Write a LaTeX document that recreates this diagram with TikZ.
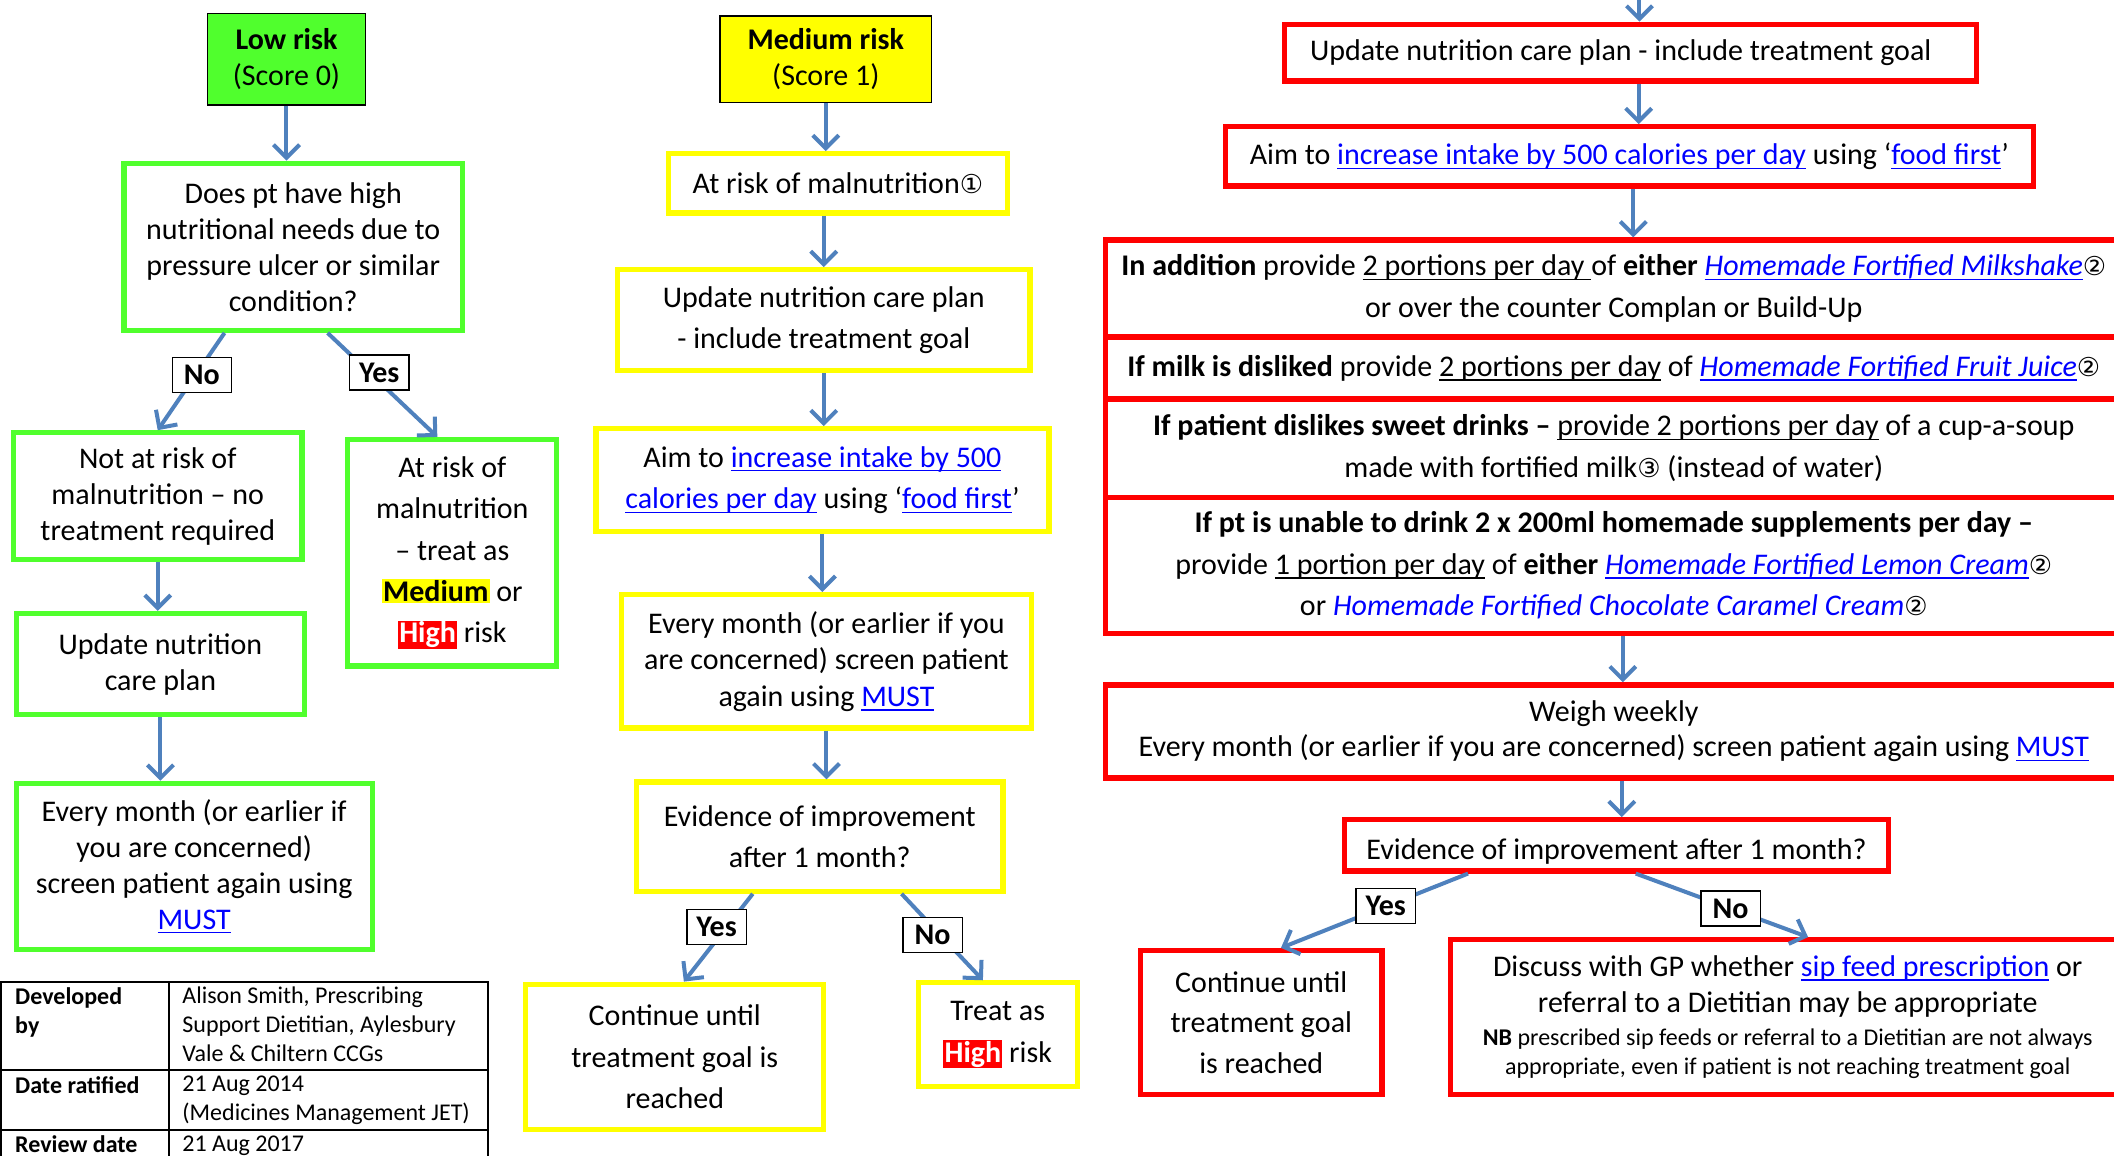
\documentclass[tikz,border=0pt]{standalone}
\usepackage{fontspec}
\setmainfont{Carlito}
\newfontfamily\circfont{DejaVu Sans}
\usetikzlibrary{arrows.meta,calc}

\definecolor{boxgreen}{RGB}{80,255,45}
\definecolor{boxyellow}{RGB}{255,255,0}
\definecolor{boxred}{RGB}{255,0,0}
\definecolor{arrowblue}{RGB}{79,129,189}
\definecolor{linkblue}{RGB}{0,0,255}

\newcommand{\pxu}{0.674pt}
\newsavebox{\ulbox}
\newcommand{\uln}[1]{\sbox{\ulbox}{#1}\rlap{\rule[-2.2pt]{\wd\ulbox}{0.7pt}}\usebox{\ulbox}}
\newcommand{\lnk}[1]{\textcolor{linkblue}{\uln{#1}}}
\newcommand{\ilnk}[1]{{\itshape\lnk{#1}}}
\newcommand{\cnum}[1]{{\circfont\fontsize{13}{13}\selectfont #1}}
\newcommand{\hlmed}{{\setlength{\fboxsep}{0.6pt}\colorbox{boxyellow}{\textbf{Medium}}}}
\newcommand{\hlhigh}{{\setlength{\fboxsep}{0.6pt}\colorbox{boxred}{\textcolor{white}{\textbf{High}}}}}

\tikzset{
  sized/.style 2 args={minimum width=#1*\pxu,minimum height=#2*\pxu,
    inner sep=0pt,align=center,fill=white},
  gbox/.style={draw=boxgreen,line width=2.6pt,font=\fontsize{15}{18}\selectfont},
  ybox/.style={draw=boxyellow,line width=2.6pt,font=\fontsize{15}{20.8}\selectfont},
  rbox/.style={draw=boxred,line width=2.6pt,font=\fontsize{15}{20.8}\selectfont},
  headbox/.style={draw=black,line width=0.7pt,font=\fontsize{15}{18}\selectfont},
  lbl/.style={draw=black,fill=white,line width=0.6pt,inner sep=0pt,
    minimum width=44*\pxu,minimum height=26*\pxu,
    font=\fontsize{15}{16}\selectfont\bfseries},
  arr/.style={draw=arrowblue,line width=2pt,
    -{Straight Barb[length=6.5pt,width=13pt,line width=2pt]}},
  tline/.style={draw=black,line width=1pt},
  cell/.style={anchor=north west,align=left,inner sep=0pt,
    font=\fontsize{12}{14.5}\selectfont}
}

\begin{document}
\begin{tikzpicture}[x=0.674pt,y=-0.674pt,line join=miter]
  \fill[white] (0,0) rectangle (1568,857);
  \clip (0,0) rectangle (1568,857);

  % Low risk column (green).
  \node[headbox,sized={117}{68},fill=boxgreen] (low) at (212.5,44)
    {\textbf{Low risk}\\(Score 0)};
  \node[gbox,sized={251}{124}] (q1) at (217.5,183)
    {Does pt have high\\nutritional needs due to\\pressure ulcer or similar\\condition?};
  \node[gbox,sized={214}{94}] (notrisk) at (117,368)
    {Not at risk of\\malnutrition -- no\\treatment required};
  \node[gbox,sized={155}{168},font=\fontsize{15}{20.7}\selectfont] (atrisk) at (335.5,410)
    {At risk of\\malnutrition\\-- treat as\\\hlmed{} or\\\hlhigh{} risk};
  \node[gbox,sized={214}{75}] (upd1) at (119,492.5)
    {Update nutrition\\care plan};
  \node[gbox,sized={264}{123}] (month1) at (144,642.5)
    {Every month (or earlier if\\you are concerned)\\screen patient again using\\\lnk{MUST}};

  \draw[arr] (low.south) -- (low.south |- q1.north);
  \draw[arr] ($(q1.south west)!0.30!(q1.south east)$)
    -- node[lbl,pos=0.43,xshift=3pt] (no1) {No} (notrisk.north);
  \draw[arr] ($(q1.south west)!0.60!(q1.south east)$)
    -- node[lbl,pos=0.38,xshift=5pt] (yes1) {Yes} ($(atrisk.north west)!0.43!(atrisk.north east)$);
  \draw[arr] (notrisk.south) -- (notrisk.south |- upd1.north);
  \draw[arr] (upd1.south) -- (upd1.south |- month1.north);

  % Document details table.
  \draw[tline] (1,728) rectangle (362,880);
  \draw[tline] (125,728) -- (125,880);
  \draw[tline] (1,794) -- (362,794);
  \draw[tline] (1,838) -- (362,838);
  \node[cell] (devby) at (11,732) {\textbf{Developed}\\\textbf{by}};
  \node[cell] (devname) at (135,732)
    {Alison Smith, Prescribing\\Support Dietitian, Aylesbury\\Vale \& Chiltern CCGs};
  \node[cell] (ratif) at (11,798) {\textbf{Date ratified}};
  \node[cell] (ratdate) at (135,798) {21 Aug 2014\\(Medicines Management JET)};
  \node[cell] (review) at (11,842) {\textbf{Review date}};
  \node[cell] (revdate) at (135,842) {21 Aug 2017};

  % Medium risk column (yellow).
  \node[headbox,sized={157}{64},fill=boxyellow] (med) at (612.5,44)
    {\textbf{Medium risk}\\(Score 1)};
  \node[ybox,sized={251}{44}] (atrisk2) at (621.5,136)
    {At risk of malnutrition\cnum{①}};
  \node[ybox,sized={306}{75}] (upd2) at (611,237.5)
    {Update nutrition care plan\\- include treatment goal};
  \node[ybox,sized={336}{76}] (aim2) at (610,356)
    {Aim to \lnk{increase intake by 500}\\\lnk{calories per day} using `\lnk{food first}'};
  \node[ybox,sized={304}{99},font=\fontsize{15}{18.2}\selectfont] (month2) at (613,490.5)
    {Every month (or earlier if you\\are concerned) screen patient\\again using \lnk{MUST}};
  \node[ybox,sized={272}{81}] (evid2) at (608,620.5)
    {Evidence of improvement\\after 1 month?};
  \node[ybox,sized={221}{108}] (cont2) at (500.5,784)
    {Continue until\\treatment goal is\\reached};
  \node[ybox,sized={118}{77}] (high2) at (740,767.5)
    {Treat as\\\hlhigh{} risk};

  \draw[arr] (med.south) -- (med.south |- atrisk2.north);
  \draw[arr] (upd2.north |- atrisk2.south) -- (upd2.north);
  \draw[arr] (upd2.south) -- (upd2.south |- aim2.north);
  \draw[arr] (aim2.south) -- (aim2.south |- month2.north);
  \draw[arr] (month2.south) -- (month2.south |- evid2.north);
  \draw[arr] ($(evid2.south west)!0.32!(evid2.south east)$)
    -- node[lbl,pos=0.38,xshift=-5pt] (yes2) {Yes} ($(cont2.north west)!0.53!(cont2.north east)$);
  \draw[arr] ($(evid2.south west)!0.72!(evid2.south east)$)
    -- node[lbl,pos=0.48,xshift=-4pt] (no2) {No} ($(high2.north west)!0.41!(high2.north east)$);

  % High risk column (red).
  \coordinate (topin) at (1216,-10);
  \node[rbox,sized={513}{42}] (upd3) at (1209.5,39)
    {Update nutrition care plan - include treatment goal\hspace{10pt}};
  \node[rbox,sized={599}{44}] (aim3) at (1208.5,116)
    {Aim to \lnk{increase intake by 500 calories per day} using `\lnk{food first}'};
  \node[rbox,sized={754}{72}] (sec1) at (1197,214)
    {\textbf{In addition} provide \uln{2 portions per day\ }of \textbf{either} \ilnk{Homemade Fortified Milkshake}\cnum{②}\\or over the counter Complan or Build-Up};
  \node[rbox,sized={754}{46}] (sec2) at (1197,273)
    {\textbf{If milk is disliked} provide \uln{2 portions per day} of \ilnk{Homemade Fortified Fruit Juice}\cnum{②}};
  \node[rbox,sized={754}{73}] (sec3) at (1197,332.5)
    {\textbf{If patient dislikes sweet drinks --} \uln{provide 2 portions per day} of a cup-a-soup\\made with fortified milk\cnum{③} (instead of water)};
  \node[rbox,sized={754}{101}] (sec4) at (1197,419.5)
    {\textbf{If pt is unable to drink 2 x 200ml homemade supplements per day --}\\provide \uln{1 portion per day} of \textbf{either} \ilnk{Homemade Fortified Lemon Cream}\cnum{②}\\or {\itshape\textcolor{linkblue}{Homemade Fortified Chocolate Caramel Cream}}\cnum{②}};
  \node[rbox,sized={754}{69},font=\fontsize{15}{17.5}\selectfont] (weigh) at (1197,542.5)
    {Weigh weekly\\Every month (or earlier if you are concerned) screen patient again using \lnk{MUST}};
  \node[rbox,sized={404}{38}] (evid3) at (1199,627)
    {\raisebox{-3pt}[\height][\depth]{Evidence of improvement after 1 month?}};
  \node[rbox,sized={179}{107},font=\fontsize{15}{20.2}\selectfont] (cont3) at (935.5,758.5)
    {Continue until\\treatment goal\\is reached};
  \node[rbox,sized={500}{115},font=\fontsize{15}{18.2}\selectfont] (disc3) at (1326,754.5)
    {Discuss with GP whether \lnk{sip feed prescription} or\\referral to a Dietitian may be appropriate\\[-2pt]
     {\fontsize{12}{12}\selectfont\textbf{NB} prescribed sip feeds or referral to a Dietitian are not always}\\[-3.4pt]
     {\fontsize{12}{12}\selectfont appropriate, even if patient is not reaching treatment goal}};

  \draw[arr] (topin) -- (topin |- upd3.north);
  \draw[arr] ([xshift=4pt]upd3.south) -- ([xshift=4pt]upd3.south |- aim3.north);
  \draw[arr] ([xshift=2pt]aim3.south) -- ([xshift=2pt]aim3.south |- sec1.north);
  \draw[arr] ([xshift=4.5pt]sec4.south) -- ([xshift=4.5pt]sec4.south |- weigh.north);
  \draw[arr] ([xshift=4pt]weigh.south) -- ([xshift=4pt]weigh.south |- evid3.north);
  \draw[arr] ($(evid3.south west)!0.23!(evid3.south east)$)
    -- node[lbl,pos=0.44] (yes3) {Yes} ($(cont3.north west)!0.58!(cont3.north east)$);
  \draw[arr] ($(evid3.south west)!0.535!(evid3.south east)$)
    -- node[lbl,pos=0.55] (no3) {No} ($(disc3.north west)!0.53!(disc3.north east)$);
\end{tikzpicture}
\end{document}
